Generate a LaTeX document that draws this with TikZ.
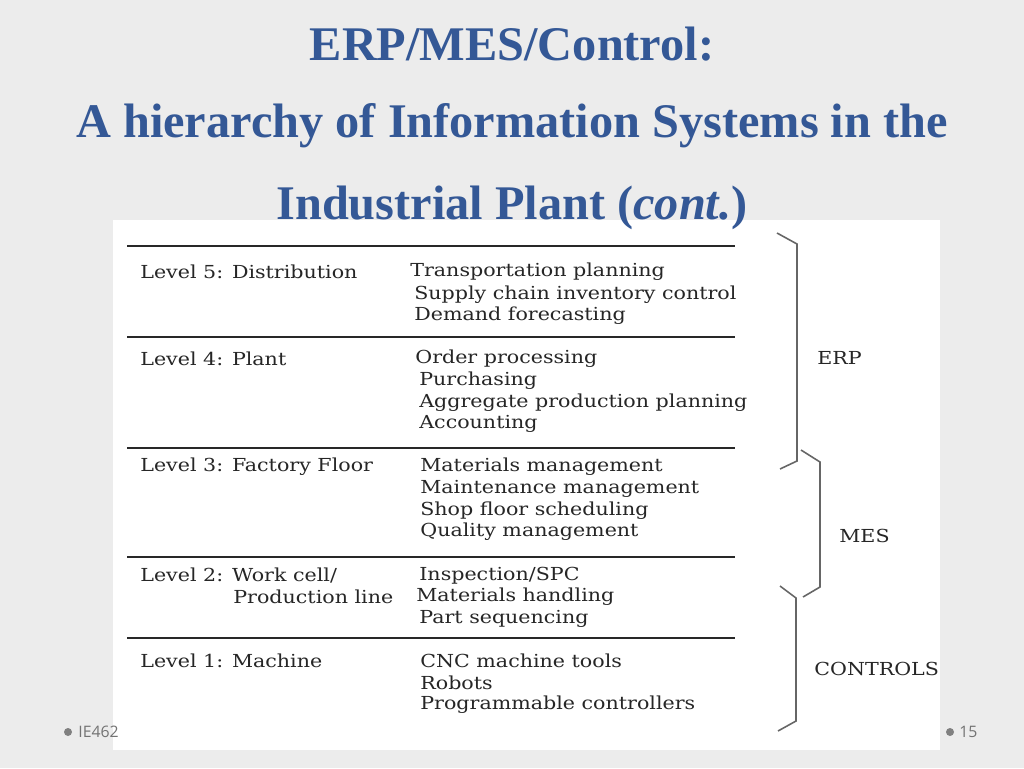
\documentclass[tikz,border=0pt]{standalone}
\usepackage{fontspec}
\setmainfont{Liberation Serif}
\newfontfamily\tabfont[FakeStretch=1.15]{DejaVu Serif}
\newfontfamily\footfont{Open Sans}
\definecolor{titleblue}{RGB}{52,88,150}
\definecolor{bgray}{RGB}{236,236,236}
\definecolor{rulegray}{RGB}{40,40,40}
\tikzset{
    txt/.style={anchor=west,inner sep=0pt,font=\tabfont\fontsize{10.2}{12}\selectfont,text=black!85},
    title/.style={font=\bfseries\fontsize{27.5}{30}\selectfont,text=titleblue},
    rulel/.style={rulegray,line width=1.6pt},
    brace/.style={gray!80!black,line width=0.9pt},
  }
\begin{document}
\begin{tikzpicture}[x=0.02cm,y=-0.02cm]
				  %background and picture frame
				  \fill[bgray] (0,0) rectangle (1024,768);
				  \fill[white] (113,220) rectangle (940,750);
				  \useasboundingbox (0,0) rectangle (1024,768);
				  \node[title] (t1) at (512,44) {ERP/MES/Control:};
				  \node[title] (t2) at (512,126) {A hierarchy of Information Systems in the};
				  \node[title] (t3) at (512,208) {Industrial Plant (\textit{cont.})};
				  %rules
				  \foreach \y in {246,337,448,557,638} \draw[rulel] (127,\y) -- (735,\y);
				  %levels
				  \node[txt] (l5) at (140,272) {Level 5: Distribution};
				  \node[txt] (l4) at (140,359) {Level 4: Plant};
				  \node[txt] (l3) at (140,467) {Level 3: Factory Floor};
				  \node[txt] (l2) at (140,576) {Level 2: Work cell/};
				  \node[txt] (l2b) at (233,597) {Production line};
				  \node[txt] (l1) at (140,661) {Level 1: Machine};
				  %functions
				  \node[txt] (f5a) at (410,272) {Transportation planning};
				  \node[txt] (f5b) at (414,295) {Supply chain inventory control};
				  \node[txt] (f5c) at (414,316) {Demand forecasting};
				  \node[txt] (f4a) at (415,359) {Order processing};
				  \node[txt] (f4b) at (419,381) {Purchasing};
				  \node[txt] (f4c) at (419,403) {Aggregate production planning};
				  \node[txt] (f4d) at (419,424) {Accounting};
				  \node[txt] (f3a) at (420,467) {Materials management};
				  \node[txt] (f3b) at (420,489) {Maintenance management};
				  \node[txt] (f3c) at (420,511) {Shop floor scheduling};
				  \node[txt] (f3d) at (420,532) {Quality management};
				  \node[txt] (f2a) at (419,576) {Inspection/SPC};
				  \node[txt] (f2b) at (416,597) {Materials handling};
				  \node[txt] (f2c) at (419,619) {Part sequencing};
				  \node[txt] (f1a) at (420,661) {CNC machine tools};
				  \node[txt] (f1b) at (420,683) {Robots};
				  \node[txt] (f1c) at (420,705) {Programmable controllers};
				  %braces
				  \draw[brace] (777,233) -- (797,244) -- (797,461) -- (780,469);
				  \draw[brace] (801,450) -- (820,462) -- (820,587) -- (803,597);
				  \draw[brace] (780,586) -- (796,598) -- (796,721) -- (778,731);
				  \node[txt] (erp) at (817,358) {ERP};
				  \node[txt] (mes) at (839,536) {MES};
				  \node[txt] (ctl) at (814,669) {CONTROLS};
				  %footer
				  \fill[gray] (68,732) circle (4);
				  \fill[gray] (950,732) circle (4);
				  \node[anchor=west,inner sep=0pt,font=\footfont\fontsize{9}{10}\selectfont,text=gray!90!black] (ie) at (78,732) {IE462};
				  \node[anchor=west,inner sep=0pt,font=\footfont\fontsize{9}{10}\selectfont,text=gray!90!black] (pg) at (959,732) {15};
\end{tikzpicture}
\end{document}
